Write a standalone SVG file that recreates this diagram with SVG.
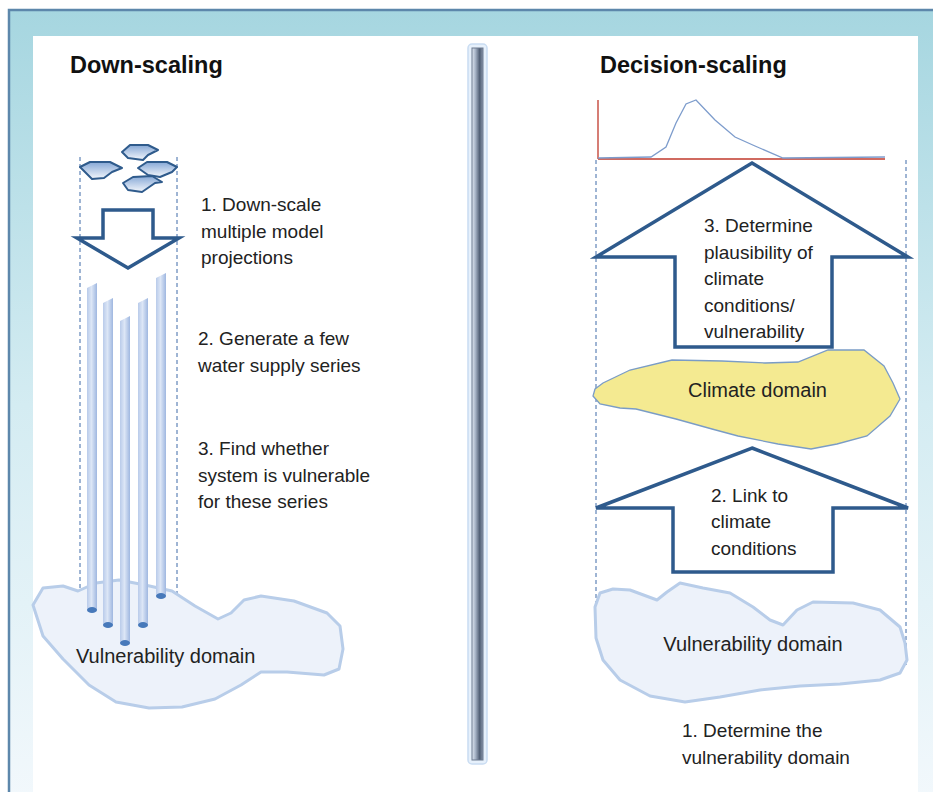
<svg xmlns="http://www.w3.org/2000/svg" width="933" height="792" viewBox="0 0 933 792">
<defs>
<linearGradient id="bg" x1="0" y1="0" x2="0" y2="1">
<stop offset="0" stop-color="#a6d6e0"/>
<stop offset="0.5" stop-color="#d4ecf2"/>
<stop offset="1" stop-color="#f2f8fc"/>
</linearGradient>
<linearGradient id="hex" x1="0" y1="0" x2="0" y2="1">
<stop offset="0" stop-color="#86a8d6"/>
<stop offset="1" stop-color="#f4f7fc"/>
</linearGradient>
<linearGradient id="tube" x1="0" y1="0" x2="1" y2="0">
<stop offset="0" stop-color="#b9cbea"/>
<stop offset="0.45" stop-color="#dce6f6"/>
<stop offset="1" stop-color="#9fb7e0"/>
</linearGradient>
<linearGradient id="bar" x1="0" y1="0" x2="1" y2="0">
<stop offset="0" stop-color="#dfe6f0"/>
<stop offset="0.3" stop-color="#a9b6c9"/>
<stop offset="0.7" stop-color="#4f5d73"/>
<stop offset="1" stop-color="#8a97ab"/>
</linearGradient>
<style>
.t{font-family:"Liberation Sans",Arial,sans-serif;font-size:19px;fill:#222}
.d{font-size:20px}
.h{font-family:"Liberation Sans",Arial,sans-serif;font-size:23.5px;font-weight:bold;fill:#111}
.arrow{fill:#fff;stroke:#2e5a8c;stroke-width:3.5;stroke-linejoin:miter}
.dash{stroke:#3e6aa8;stroke-width:1;stroke-dasharray:4 3;fill:none}
.hx{fill:url(#hex);stroke:#2f5b8c;stroke-width:2;stroke-linejoin:round}
.tb{fill:url(#tube)}
.dot{fill:#4779ba}
.vd{fill:#edf2fa;stroke:#b8cde9;stroke-width:3;stroke-linejoin:round}
</style>
</defs>
<rect x="0" y="0" width="933" height="792" fill="#ffffff"/>
<rect x="9" y="10" width="930" height="790" fill="url(#bg)" stroke="#5d87ab" stroke-width="2.5"/>
<rect x="33" y="36" width="885" height="760" fill="#ffffff"/>

<g id="divider">
<rect x="468" y="44" width="19" height="720" rx="4" fill="#e6f0fb" stroke="#c9dcf2" stroke-width="1.5"/>
<rect x="472" y="48" width="11" height="712" fill="url(#bar)" stroke="#6c7a90" stroke-width="1"/>
</g>

<g id="titles">
<text class="h" x="70" y="73">Down-scaling</text>
<text class="h" x="600" y="73">Decision-scaling</text>
</g>

<g id="connectors">
<line class="dash" x1="80" y1="157" x2="80" y2="596"/>
<line class="dash" x1="177" y1="157" x2="177" y2="596"/>
<line class="dash" x1="596" y1="160" x2="596" y2="605"/>
<line class="dash" x1="906" y1="160" x2="906" y2="665"/>
</g>

<g id="vuln-left">
<polygon class="vd" points="33,605 43,588 63,586 78,591 96,583 119,580 145,585 172,591 195,606 218,619 231,613 244,600 261,596 294,601 327,613 340,626 343,649 339,669 324,675 287,672 261,672 241,685 215,699 182,707 149,708 116,702 89,685 63,659 43,636"/>
<text class="t d" x="76" y="663">Vulnerability domain</text>
</g>

<g id="projections">
<polygon class="hx" points="80,167 90,162 110,162 122,168 112,172 104,178 92,179"/>
<polygon class="hx" points="122,152 130,145 148,145 158,150 148,155 143,160 128,158"/>
<polygon class="hx" points="138,168 147,162 167,162 177,167 172,172 160,177 148,175"/>
<polygon class="hx" points="123,183 133,177 152,176 162,182 155,183 142,192 128,190"/>
</g>

<g id="downscale-arrow">
<polygon class="arrow" points="103,210 153,210 153,238 179,238 128,268 77,238 103,238"/>
</g>

<g id="tubes">
<polygon class="tb" points="87,288 97,283 97,610 87,610"/>
<polygon class="tb" points="103,303 113,298 113,625 103,625"/>
<polygon class="tb" points="120,321 130,316 130,643 120,643"/>
<polygon class="tb" points="138,303 148,298 148,625 138,625"/>
<polygon class="tb" points="156,278 166,273 166,596 156,596"/>
<ellipse class="dot" cx="92" cy="610" rx="5" ry="3"/>
<ellipse class="dot" cx="108" cy="625" rx="5" ry="3"/>
<ellipse class="dot" cx="125" cy="643" rx="5" ry="3"/>
<ellipse class="dot" cx="143" cy="625" rx="5" ry="3"/>
<ellipse class="dot" cx="161" cy="596" rx="5" ry="3"/>
</g>

<g id="left-steps">
<text class="t" x="201" y="211">1. Down-scale</text>
<text class="t" x="201" y="238">multiple model</text>
<text class="t" x="201" y="264">projections</text>
<text class="t" x="198" y="345">2. Generate a few</text>
<text class="t" x="198" y="372">water supply series</text>
<text class="t" x="198" y="455">3. Find whether</text>
<text class="t" x="198" y="482">system is vulnerable</text>
<text class="t" x="198" y="508">for these series</text>
</g>

<g id="chart">
<line x1="598" y1="100" x2="598" y2="159" stroke="#c0392b" stroke-width="1.3"/>
<line x1="598" y1="159" x2="885" y2="159" stroke="#c0392b" stroke-width="1.3"/>
<polyline points="598,158 651,157 666,147 676,123 686,104 696,100 715,120 735,137 755,146 783,158 885,157" fill="none" stroke="#7d9ccc" stroke-width="1.3"/>
</g>

<g id="arrow-3">
<polygon class="arrow" points="752,163 908,257 832,257 832,347 675,347 675,257 596,257"/>
<text class="t" x="704" y="232">3. Determine</text>
<text class="t" x="704" y="259">plausibility of</text>
<text class="t" x="704" y="285">climate</text>
<text class="t" x="704" y="312">conditions/</text>
<text class="t" x="704" y="338">vulnerability</text>
</g>

<g id="climate-domain">
<polygon points="595,389 603,383 630,370 672,360 722,361 765,363 798,362 828,350 864,350 884,366 893,383 900,399 890,416 867,436 837,444 811,449 778,444 738,436 712,429 676,419 636,409 620,408 600,404 593,396" fill="#f4ea91" stroke="#7a9cc6" stroke-width="1.3"/>
<text class="t d" x="688" y="397">Climate domain</text>
</g>

<g id="arrow-2">
<polygon class="arrow" points="752,448 908,508 833,508 833,572 673,572 673,508 596,508"/>
<text class="t" x="711" y="502">2. Link to</text>
<text class="t" x="711" y="528">climate</text>
<text class="t" x="711" y="555">conditions</text>
</g>

<g id="vuln-right">
<polygon class="vd" points="595,607 600,593 613,589 630,590 657,600 667,592 680,583 703,588 730,593 753,607 770,620 783,625 797,610 813,602 853,603 880,610 900,627 905,643 907,660 900,673 880,680 840,684 800,686 760,690 720,697 685,702 650,696 620,680 603,660 596,638"/>
<text class="t d" x="753" y="651" text-anchor="middle">Vulnerability domain</text>
</g>

<g id="step-1">
<text class="t" x="682" y="737">1. Determine the</text>
<text class="t" x="682" y="764">vulnerability domain</text>
</g>
</svg>
